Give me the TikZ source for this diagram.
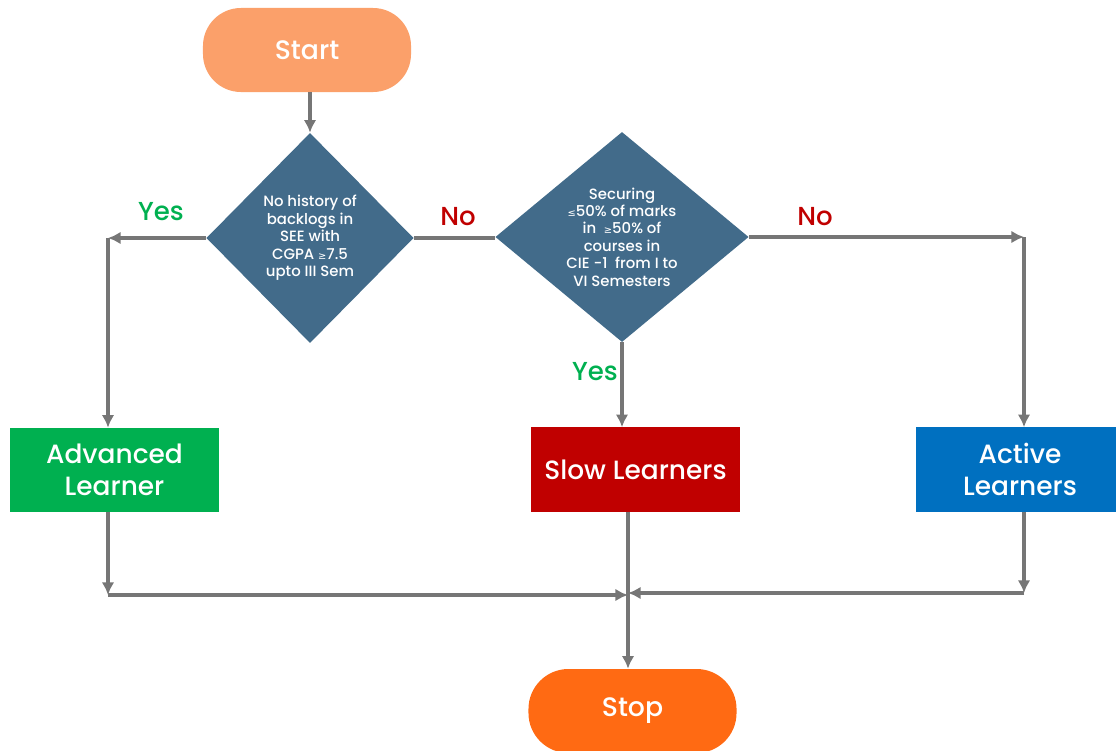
\documentclass[tikz,border=0pt]{standalone}
\usepackage{fontspec}
\IfFontExistsTF{Poppins Medium}{\setmainfont{Poppins Medium}}{\setmainfont{Poppins}}
\newfontfamily\relfont{DejaVu Sans}
\usetikzlibrary{shapes.geometric, arrows.meta}
\usetikzlibrary{positioning}
\definecolor{startorange}{HTML}{FBA06A}
\definecolor{stoporange}{HTML}{FF6A13}
\definecolor{decblue}{HTML}{426B8A}
\definecolor{advgreen}{HTML}{00B050}
\definecolor{slowred}{HTML}{C00000}
\definecolor{actblue}{HTML}{0070C0}
\definecolor{linegray}{HTML}{767676}
\tikzstyle{startstop} = [rectangle, rounded corners=0.95cm, minimum width=5.2cm, minimum height=2.1cm, text centered, text=white, font=\fontsize{19}{22}\selectfont]
\tikzstyle{decision} = [diamond, inner sep=0pt, text centered, align=center, fill=decblue, text=white, font=\fontsize{10.6}{12.4}\selectfont]
\tikzstyle{process} = [rectangle, minimum width=5.22cm, minimum height=2.1cm, text centered, align=center, text=white, font=\fontsize{18.8}{23}\selectfont]
\tikzstyle{arrow} = [line width=2.6pt, draw=linegray, -{Latex[length=9pt,width=9pt]}]
\tikzstyle{line} = [line width=2.6pt, draw=linegray]
\tikzstyle{yeslabel} = [text=advgreen, font=\fontsize{18.5}{20}\selectfont]
\tikzstyle{nolabel} = [text=slowred, font=\fontsize{18.5}{20}\selectfont]
\newcommand{\lessq}{{\relfont\scriptsize ≤}}
\newcommand{\moreq}{{\relfont\scriptsize ≥}}

\begin{document}
\begin{tikzpicture}[x=0.025cm, y=-0.025cm]
		\useasboundingbox (0,0) rectangle (1116,750);

		\node (start) [startstop, fill=startorange] at (307,50) {Start};

		\node (history_if) [decision, minimum width=5.18cm, minimum height=5.25cm] at (310,238) {No history of\\backlogs in\\SEE with\\CGPA \moreq7.5\\upto III Sem};
		\node (securing_if) [decision, minimum width=6.33cm, minimum height=5.23cm] at (622,237) {Securing\\\lessq50\% of marks\\in \ \moreq50\% of\\courses in\\CIE -1 \ from I to\\VI Semesters};

		\node (advanced) [process, fill=advgreen] at (114.5,470) {Advanced\\Learner};
		\node (slow) [process, fill=slowred] at (635.5,469.5) {Slow Learners};
		\node (active) [process, fill=actblue] at (1020,469.5) {Active\\Learners};

		\node (stop) [startstop, fill=stoporange, rounded corners=1cm] at (632.5,711) {Stop};

		% corners of the connectors
		\coordinate (yes_corner) at (108,238);
		\coordinate (no_corner) at (1024,237);
		\coordinate (adv_corner) at (108,595);
		\coordinate (act_corner) at (1024,593);
		\coordinate (join_left) at (628,595);
		\coordinate (join_right) at (628,593);

		\draw [arrow] (start.south -| history_if.north) -- (history_if.north);
		\draw [arrow] (history_if.west) -- (yes_corner);
		\draw [arrow] (yes_corner) -- (advanced.north -| yes_corner);
		\draw [line] (history_if.east) -- (history_if.east -| securing_if.west);
		\draw [arrow] (securing_if.east) -- (no_corner);
		\draw [arrow] (no_corner) -- (active.north -| no_corner);
		\draw [arrow] (securing_if.south) -- (slow.north -| securing_if.south);

		\draw [arrow] (advanced.south -| adv_corner) -- (adv_corner);
		\draw [arrow] (adv_corner) -- (join_left);
		\draw [arrow] (active.south -| act_corner) -- (act_corner);
		\draw [arrow] (act_corner) -- (join_right);
		\draw [arrow] (slow.south -| join_left) -- (stop.north -| join_left);

		\node [yeslabel] at (161,212) {Yes};
		\node [nolabel] at (458,217) {No};
		\node [nolabel] at (815,217) {No};
		\node [yeslabel] at (595,372) {Yes};
	\end{tikzpicture}
\end{document}
